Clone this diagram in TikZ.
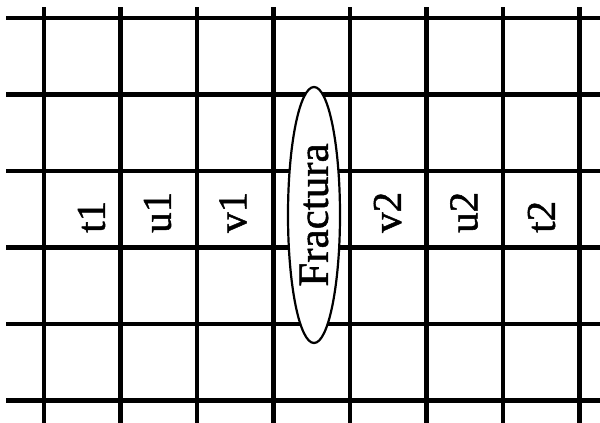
\documentclass[tikz,border=0pt]{standalone}
\usepackage{fontspec}
\setmainfont[FakeBold=1.2]{Liberation Serif}
\usetikzlibrary{shapes.geometric}
\begin{document}
\begin{tikzpicture}[x=1pt,y=-1pt,
  gridline/.style={line width=4.5pt},
  lbl/.style={rotate=90,anchor=west,inner sep=0pt,font=\fontsize{41}{41}\selectfont},
  fract/.style={ellipse,draw,line width=2.2pt,fill=white,rotate=90,minimum width=256pt,minimum height=52pt,inner sep=0pt,font=\fontsize{43}{43}\selectfont}]
\useasboundingbox (0,0) rectangle (600,423);
\foreach \x in {44,120.5,197,273.5,350,426.5,503,579.5} \draw[gridline] (\x,7) -- (\x,423);
\foreach \y in {18,94.5,171,247.5,324,400.5} \draw[gridline] (6,\y) -- (600,\y);
\node[fract] (fr) at (314,215) {Fractura};
\node[lbl] (t1) at (91.5,233) {t1};
\node[lbl] (u1) at (157.5,233) {u1};
\node[lbl] (v1) at (233,233) {v1};
\node[lbl] (v2) at (387.5,233) {v2};
\node[lbl] (u2) at (464,233) {u2};
\node[lbl] (t2) at (541.5,233) {t2};
\end{tikzpicture}
\end{document}
